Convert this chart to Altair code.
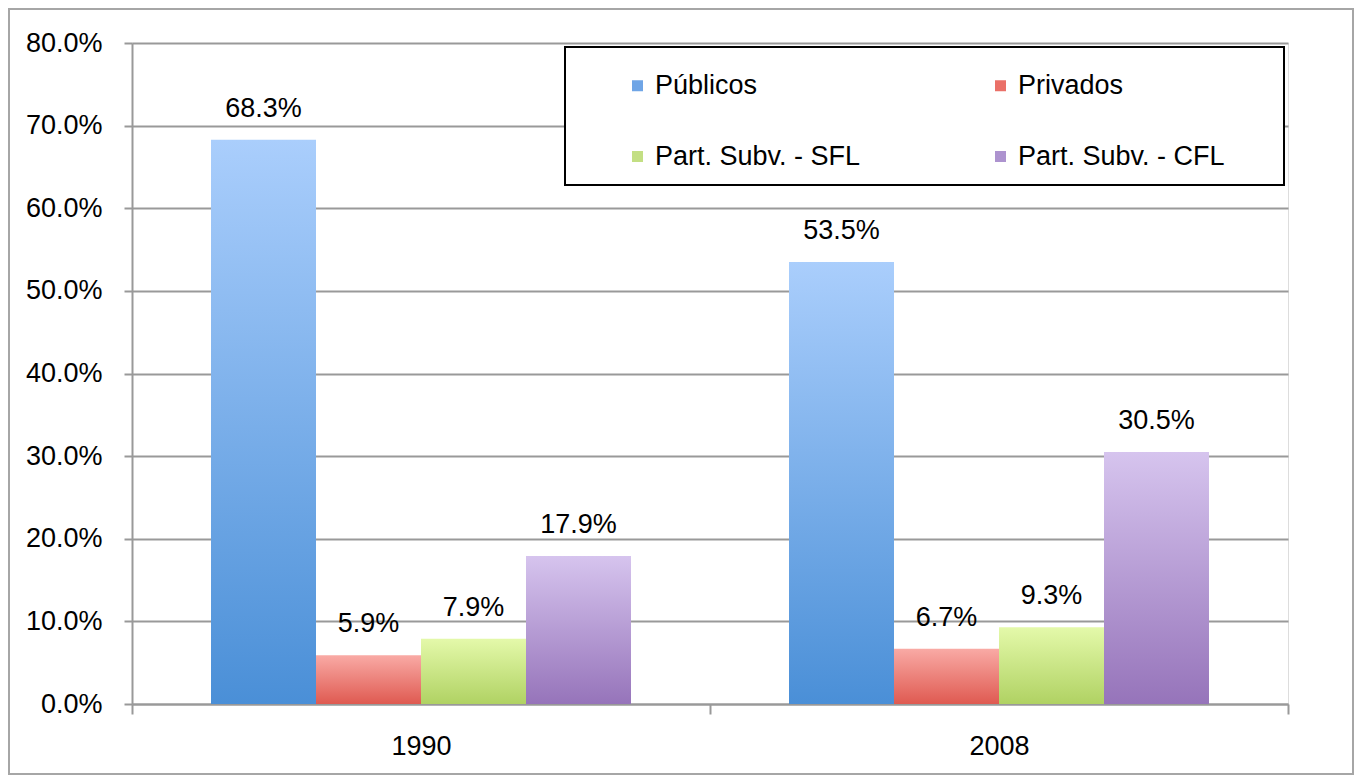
import altair as alt
import pandas as pd

years = ["1990", "2008"]
series = ["Públicos", "Privados", "Part. Subv. - SFL", "Part. Subv. - CFL"]
values_1990 = [0.683, 0.059, 0.079, 0.179]
values_2008 = [0.535, 0.067, 0.093, 0.305]

legend_colors = ["#6fa5e6", "#ea7068", "#c3df83", "#ad93cf"]
grad_top = ["#aacefc", "#f9aaa5", "#e4f9aa", "#d6c4ee"]
grad_bottom = ["#4a8fd7", "#df5a51", "#b0d263", "#9674ba"]

rows = []
for y, vals in zip(years, [values_1990, values_2008]):
    for s, v in zip(series, vals):
        rows.append({"year": y, "series": s, "value": v})
df = pd.DataFrame(rows)

FONT = "Liberation Sans"
FS = 27
W, H = 1156, 661


def grad(top, bottom):
    return {
        "gradient": "linear",
        "x1": 0, "y1": 1, "x2": 0, "y2": 0,
        "stops": [{"offset": 0, "color": bottom}, {"offset": 1, "color": top}],
    }


conds = [
    {"test": f"datum.series === '{s}'", "value": grad(t, b)}
    for s, t, b in zip(series, grad_top, grad_bottom)
]

x_enc = alt.X(
    "year:N",
    sort=years,
    scale=alt.Scale(paddingInner=0, paddingOuter=0),
    axis=alt.Axis(
        title=None, labelAngle=0, labelFont=FONT, labelFontSize=FS, labelColor="#000000",
        domainColor="#999999", domainWidth=2, tickColor="#999999", tickWidth=2,
        tickSize=10, tickBand="extent", labelPadding=19, grid=False,
    ),
)
xoff = alt.XOffset("series:N", sort=series,
                   scale=alt.Scale(paddingInner=0, paddingOuter=0.7524))
y_enc = alt.Y(
    "value:Q",
    scale=alt.Scale(domain=[0, 0.8], nice=False),
    axis=alt.Axis(
        title=None, format=".1%", values=[0, 0.1, 0.2, 0.3, 0.4, 0.5, 0.6, 0.7, 0.8],
        labelFont=FONT, labelFontSize=FS, labelColor="#000000",
        domainColor="#999999", domainWidth=2, tickColor="#999999", tickWidth=2,
        tickSize=8, labelPadding=22, gridColor="#999999", gridWidth=2,
    ),
)

frame = alt.Chart(pd.DataFrame({"k": [0]})).mark_rect(
    fillOpacity=0, stroke="#a6a6a6", strokeWidth=2
).encode(
    x=alt.value(-123), x2=alt.value(W + 65), y=alt.value(-34), y2=alt.value(H + 70)
)

bars = alt.Chart(df).mark_bar().encode(
    x=x_enc,
    xOffset=xoff,
    y=y_enc,
    color=alt.Color(
        "series:N",
        sort=series,
        scale=alt.Scale(domain=series, range=legend_colors),
        legend=alt.Legend(
            title=None, orient="none", legendX=492, legendY=29, direction="horizontal",
            columns=2, columnPadding=126, rowPadding=43, gridAlign="each",
            symbolType="square", symbolSize=121, symbolStrokeWidth=0, labelOffset=4,
            labelFont=FONT, labelFontSize=FS, labelColor="#000000", labelLimit=400,
            padding=0,
        ),
        condition=conds,
    ),
)

labels = alt.Chart(df).mark_text(
    font=FONT, fontSize=FS, color="#000000", baseline="alphabetic", dy=-23
).encode(
    x=alt.X("year:N", sort=years),
    xOffset=alt.XOffset("series:N", sort=series),
    y=alt.Y("value:Q"),
    text=alt.Text("value:Q", format=".1%"),
)

legend_box = alt.Chart(pd.DataFrame({"k": [0]})).mark_rect(
    fill="white", stroke="#000000", strokeWidth=2
).encode(
    x=alt.value(433), x2=alt.value(1152), y=alt.value(4), y2=alt.value(142)
)

chart = alt.layer(frame, bars, labels, legend_box).properties(
    width=W, height=H,
    autosize=alt.AutoSizeParams(type="none"),
    padding={"left": 124, "top": 35, "right": 66, "bottom": 72},
).configure_view(stroke=None).configure(background="white")

chart.save("out.html", embed_options={"renderer": "svg", "actions": False})
